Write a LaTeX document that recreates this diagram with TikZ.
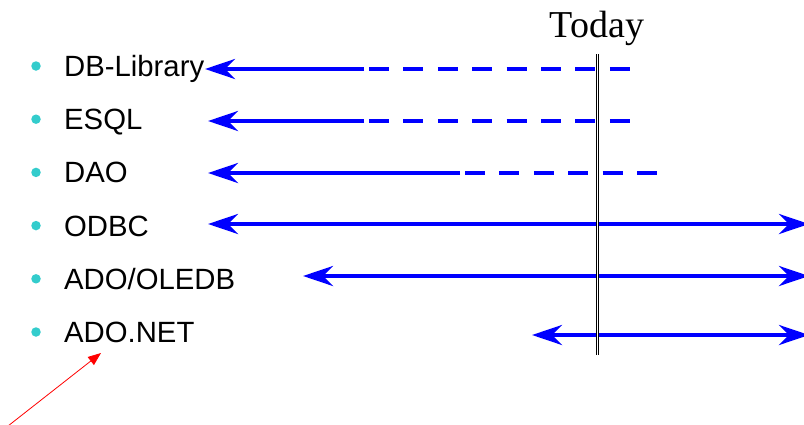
\documentclass[tikz,border=0pt]{standalone}
\usepackage{fontspec}
\setmainfont{Liberation Serif}
\setsansfont{Liberation Sans}
\usetikzlibrary{arrows.meta}
\usetikzlibrary{positioning}
\definecolor{bulletcyan}{RGB}{51,204,204}
\definecolor{lineblue}{RGB}{0,0,255}

\tikzset{
  bullet/.style={circle, fill=bulletcyan, inner sep=0pt, minimum size=9.5pt},
  techlabel/.style={anchor=base west, inner sep=0pt, font=\sffamily\fontsize{29.3}{31}\selectfont},
  timeline/.style={draw=lineblue, line width=4.5pt, >={Stealth[length=30pt, width=20pt, inset=10pt]}},
  fading/.style={draw=lineblue, line width=4.5pt, dash pattern=on 20pt off 14.4pt},
  todayline/.style={draw=black, line width=1pt, double=white, double distance=1.5pt}
}

\begin{document}
\begin{tikzpicture}[x=1pt, y=-1pt]
  \useasboundingbox (0,0) rectangle (804,424);

  % bullets and labels
  \node[bullet] (b1) at (36,66) {};
  \node[bullet] (b2) at (36,119.2) {};
  \node[bullet] (b3) at (36,172.4) {};
  \node[bullet] (b4) at (36,225.6) {};
  \node[bullet] (b5) at (36,278.8) {};
  \node[bullet] (b6) at (36,332) {};
  \node[techlabel] (dblib) at (64,76.5) {DB-Library};
  \node[techlabel] (esql) at (64,129.7) {ESQL};
  \node[techlabel] (dao) at (64,182.9) {DAO};
  \node[techlabel] (odbc) at (64,236.1) {ODBC};
  \node[techlabel] (oledb) at (64,289.3) {ADO/OLEDB};
  \node[techlabel] (adonet) at (64,342.5) {ADO.NET};

  \node[inner sep=0pt, font=\fontsize{38}{40}\selectfont] (today) at (597,28) {Today};

  % time line ends
  \coordinate (dbL) at (205,69);
  \coordinate (dbM) at (364,69);
  \coordinate (dbD) at (369,69);
  \coordinate (dbR) at (630,69);
  \coordinate (esL) at (208,121);
  \coordinate (esM) at (364,121);
  \coordinate (esD) at (369,121);
  \coordinate (esR) at (630,121);
  \coordinate (daL) at (208,173);
  \coordinate (daM) at (460,173);
  \coordinate (daD) at (465,173);
  \coordinate (daR) at (657,173);
  \coordinate (odL) at (208,224);
  \coordinate (odR) at (809,224);
  \coordinate (olL) at (303,276);
  \coordinate (olR) at (809,276);
  \coordinate (anL) at (532,335);
  \coordinate (anR) at (809,335);
  \coordinate (todayTop) at (597.5,54);
  \coordinate (todayBot) at (597.5,355);
  \coordinate (pointer) at (8,426);
  \coordinate (pointTip) at (101,353);

  \draw[timeline, ->] (dbM) -- (dbL);
  \draw[fading] (dbD) -- (dbR);
  \draw[timeline, ->] (esM) -- (esL);
  \draw[fading] (esD) -- (esR);
  \draw[timeline, ->] (daM) -- (daL);
  \draw[fading] (daD) -- (daR);
  \draw[timeline, <->] (odL) -- (odR);
  \draw[timeline, <->] (olL) -- (olR);
  \draw[timeline, <->] (anL) -- (anR);

  \draw[todayline] (todayTop) -- (todayBot);

  \draw[red, line width=0.8pt, -{Triangle[length=13pt, width=10pt]}] (pointer) -- (pointTip);
\end{tikzpicture}
\end{document}
